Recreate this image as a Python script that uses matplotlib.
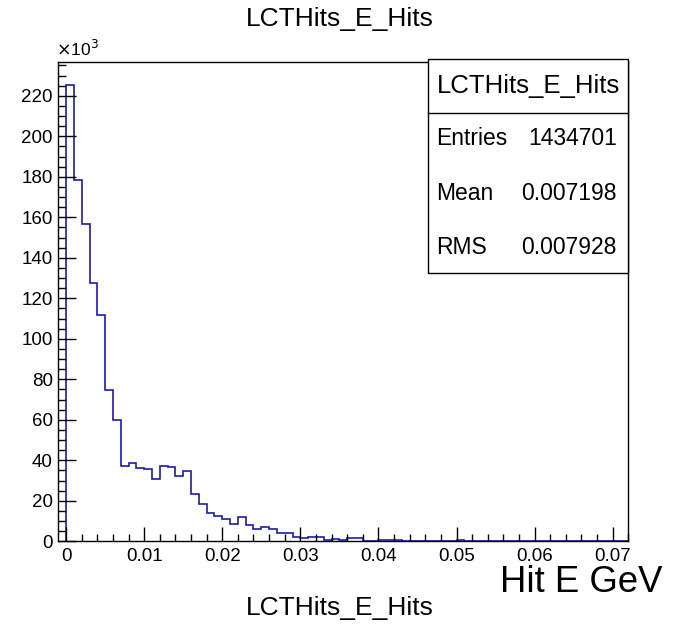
import numpy as np
import matplotlib.pyplot as plt
from matplotlib.ticker import MultipleLocator, FuncFormatter
from matplotlib.patches import Rectangle

plt.rcParams['font.family'] = ['Liberation Sans', 'DejaVu Sans']

# histogram contents, bins of 0.001 GeV starting at 0
counts = [225600, 178500, 156800, 127600, 112000, 74500, 59800, 37300, 38900, 36100,
          35500, 31000, 37400, 36800, 32300, 34800, 23300, 18200, 13800, 12500,
          10800, 8700, 11800, 7900, 6200, 6900, 6200, 4200, 4200, 2300,
          1600, 2300, 2200, 500, 1000, 500, 1500, 1500, 0, 300,
          500, 500, 500, 0, 0, 300, 0, 0, 0, 0,
          800, 300, 0, 0, 0, 0, 0, 0, 0, 0,
          0, 0, 0, 0, 0, 0, 0, 0, 0, 0,
          0, 0]
bin_width = 0.001
x_lo, x_hi = -0.001, 0.072

hist_name = 'LCTHits_E_Hits'
stats_labels = ['Entries', 'Mean', 'RMS']
stats_values = ['1434701', '0.007198', '0.007928']

edges = np.arange(len(counts) + 1) * bin_width

fig = plt.figure(figsize=(6.8, 6.28), dpi=100)
ax = fig.add_axes([0.0857, 0.138, 0.924 - 0.0857, 0.9018 - 0.138])

ax.stairs(counts, edges, baseline=0, color='#1c1ca6', lw=1.2)

ax.set_xlim(x_lo, x_hi)
ax.set_ylim(0, 1.05 * max(counts))

ax.xaxis.set_major_locator(MultipleLocator(0.01))
ax.xaxis.set_minor_locator(MultipleLocator(0.002))
ax.yaxis.set_major_locator(MultipleLocator(20000))
ax.yaxis.set_minor_locator(MultipleLocator(5000))
ax.xaxis.set_major_formatter(FuncFormatter(lambda v, p: '0' if abs(v) < 1e-9 else '%g' % v))
ax.yaxis.set_major_formatter(FuncFormatter(lambda v, p: '%d' % round(v / 1000)))

ax.tick_params(axis='both', direction='in', width=1, labelsize=13.5,
               top=False, right=False, which='both')
ax.tick_params(axis='x', which='major', length=10.3, pad=4.5)
ax.tick_params(axis='x', which='minor', length=4.8)
ax.tick_params(axis='y', which='major', length=12.7, pad=4)
ax.tick_params(axis='y', which='minor', length=6)
for s in ax.spines.values():
    s.set_linewidth(1)

fig.text(0.083, 0.9065, r'$\times$10$^{3}$', fontsize=12.5, ha='left', va='bottom')

fig.text(0.5, 0.97, hist_name, fontsize=19, ha='center', va='center')
fig.text(0.5, 0.032, hist_name, fontsize=19, ha='center', va='center')
fig.text(663 / 680, 1 - 583 / 628, 'Hit E GeV', fontsize=26.3, ha='right', va='center')

# stats box
bx0, bx1 = 428.3 / 680, 628.3 / 680
by0, by1 = 1 - 273 / 628, 1 - 59 / 628
fig.patches.append(Rectangle((bx0, by0), bx1 - bx0, by1 - by0, transform=fig.transFigure,
                             facecolor='white', edgecolor='black', lw=1, zorder=5))
fig.add_artist(plt.Line2D([bx0, bx1], [1 - 112.7 / 628] * 2, transform=fig.transFigure,
                          color='black', lw=1, zorder=6))
fig.text((bx0 + bx1) / 2, 1 - 86 / 628, hist_name, fontsize=18.5, ha='center', va='center', zorder=7)
row_y = [138, 193, 247]
for lab, val, yy in zip(stats_labels, stats_values, row_y):
    fig.text(436 / 680, 1 - yy / 628, lab, fontsize=16.5, ha='left', va='center', zorder=7)
    fig.text(617 / 680, 1 - yy / 628, val, fontsize=16.5, ha='right', va='center', zorder=7)

fig.savefig('out.png', dpi=100)
